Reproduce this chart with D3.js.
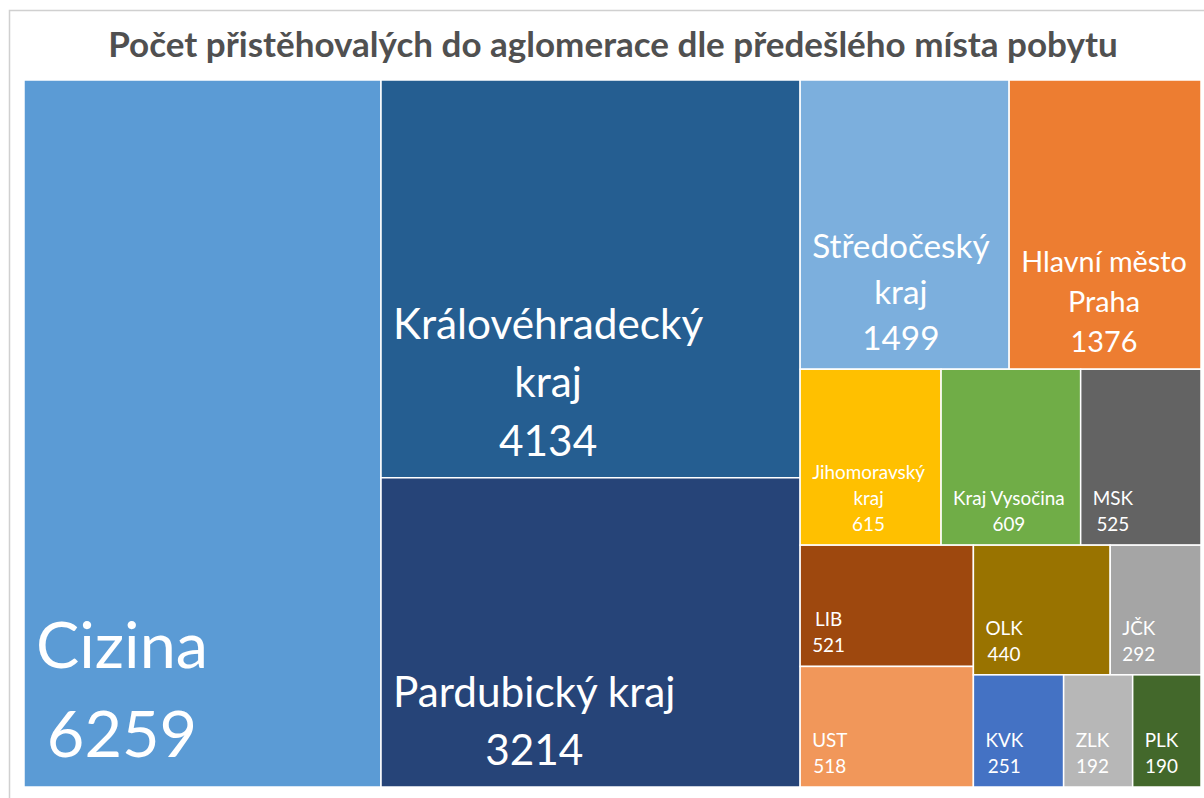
<!DOCTYPE html>
<html><head><meta charset="utf-8">
<script src="https://cdn.jsdelivr.net/npm/d3@7"></script>
<style>html,body{margin:0;padding:0;background:#fff;} svg{display:block;}</style>
</head><body>
<svg id="chart" width="1204" height="798"></svg>
<script>
// ---- data ----
const chartTitle = "Počet přistěhovalých do aglomerace dle předešlého místa pobytu";
const categories = ["Cizina","Královéhradecký kraj","Pardubický kraj","Středočeský kraj","Hlavní město Praha","Jihomoravský kraj","Kraj Vysočina","MSK","LIB","UST","OLK","JČK","KVK","ZLK","PLK"];
const values = [6259,4134,3214,1499,1376,615,609,525,521,518,440,292,251,192,190];

// ---- styles ----
const colors = ["#5B9BD5","#255E91","#264478","#7CAFDD","#ED7D31","#FFC000","#70AD47","#636363","#9E480E","#F1975A","#997300","#A5A5A5","#4472C4","#B7B7B7","#43682B"];
const labelSizes = [72,47,47,37,32,21,21,21,21,21,21,21,21,21,21];
const FONT = "Lato, 'Open Sans', sans-serif";
const FONT_SCALE = 0.9;

const W = 1204, H = 798;
const plot = {x0: 24, y0: 80, x1: 1201, y1: 787};

const svg = d3.select("#chart");

// chart area border
svg.append("rect")
  .attr("x", 9.5).attr("y", 10.5)
  .attr("width", W + 20).attr("height", H + 20)
  .attr("fill", "#fff").attr("stroke", "#d0d0d0").attr("stroke-width", 1.5);

// title
const titleEl = svg.append("text")
  .attr("x", 613).attr("y", 57)
  .attr("text-anchor", "middle")
  .attr("font-family", FONT).attr("font-weight", 700)
  .attr("font-size", 30).attr("fill", "#505050")
  .text(chartTitle);
const tl = titleEl.node().getComputedTextLength();
titleEl.attr("font-size", 30 * 1010 / tl);

// treemap
const data = {children: categories.map((c, i) => ({name: c, value: values[i], color: colors[i], size: labelSizes[i]}))};
const root = d3.hierarchy(data).sum(d => d.value || 0);
d3.treemap()
  .size([plot.x1 - plot.x0, plot.y1 - plot.y0])
  .tile(d3.treemapSquarify.ratio(1))
  (root);

const g = svg.append("g").attr("transform", `translate(${plot.x0},${plot.y0})`);
const leaves = g.selectAll("g.leaf").data(root.leaves()).join("g").attr("class", "leaf");

leaves.append("rect")
  .attr("x", d => d.x0).attr("y", d => d.y0)
  .attr("width", d => d.x1 - d.x0).attr("height", d => d.y1 - d.y0)
  .attr("fill", d => d.data.color)
  .attr("stroke", "#fff").attr("stroke-width", 1.5);

// measuring helper
const meas = svg.append("text").attr("font-family", FONT).attr("visibility", "hidden");
function textW(str, fs) { meas.attr("font-size", fs).text(str); return meas.node().getComputedTextLength(); }

leaves.each(function(d) {
  const s = d.data.size, fs = s * FONT_SCALE;
  const maxW = (d.x1 - d.x0) * 0.87;
  const words = d.data.name.split(" ");
  const lines = [];
  let cur = "";
  words.forEach(w => {
    const t = cur ? cur + " " + w : w;
    if (cur && textW(t, fs) > maxW) { lines.push(cur); cur = w; } else cur = t;
  });
  if (cur) lines.push(cur);
  lines.push(String(d.data.value));
  const widths = lines.map(l => textW(l, fs));
  const bw = d3.max(widths);
  const cx = d.x0 + 12 + bw / 2;
  const lh = 1.24 * s;
  const lastBase = d.y1 - (8 + 0.3 * s);
  const t = d3.select(this).append("text")
    .attr("font-family", FONT).attr("font-size", fs)
    .attr("fill", "#fff").attr("text-anchor", "middle");
  lines.forEach((l, i) => {
    t.append("tspan").attr("x", cx).attr("y", lastBase - (lines.length - 1 - i) * lh).text(l);
  });
});
meas.remove();
</script>
</body></html>
